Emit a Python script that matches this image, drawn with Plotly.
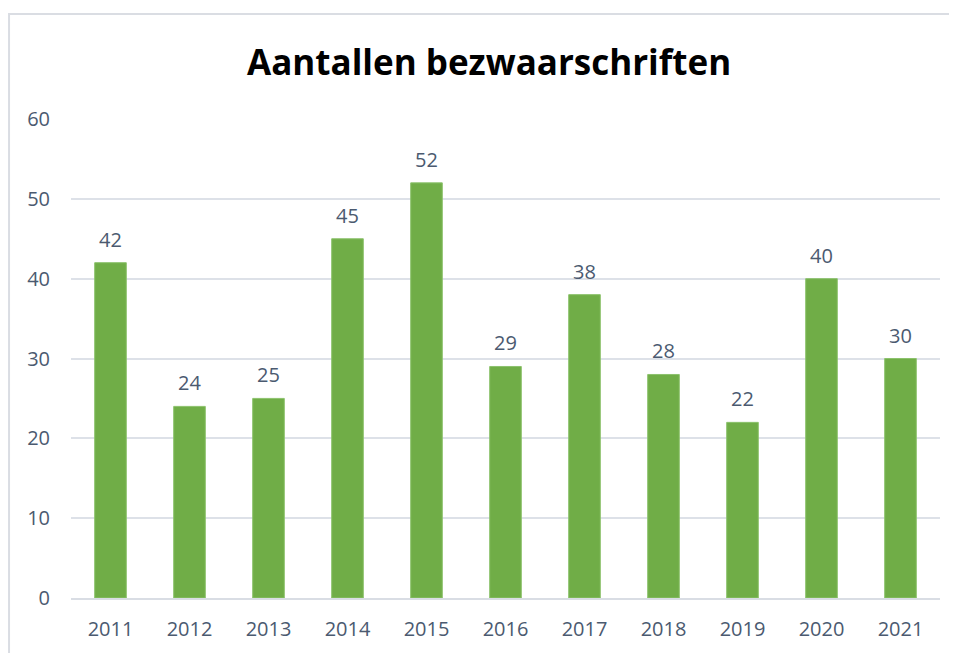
import plotly.graph_objects as go

# Aantallen bezwaarschriften per jaar
jaren = ['2011', '2012', '2013', '2014', '2015', '2016', '2017', '2018', '2019', '2020', '2021']
aantallen = [42, 24, 25, 45, 52, 29, 38, 28, 22, 40, 30]
y_ticks = [0, 10, 20, 30, 40, 50, 60]

tekst_kleur = '#4B5A70'
font_naam = 'Open Sans'

fig = go.Figure()
fig.add_trace(go.Bar(
    x=jaren,
    y=aantallen,
    marker=dict(color='#70AD47', line=dict(width=1, color='#8CC26C')),
    hoverinfo='x+y',
))
# labels boven de staven (onzichtbare markers geven wat extra ruimte)
fig.add_trace(go.Scatter(
    x=jaren,
    y=aantallen,
    mode='markers+text',
    text=aantallen,
    textposition='top center',
    textfont=dict(family=font_naam, size=20, color=tekst_kleur),
    marker=dict(size=16, opacity=0),
    cliponaxis=False,
    hoverinfo='skip',
))

fig.update_layout(
    width=949,
    height=645,
    paper_bgcolor='white',
    plot_bgcolor='white',
    margin=dict(l=63, r=17, t=111, b=55),
    bargap=0.6,
    showlegend=False,
    title=dict(
        text='<b>Aantallen bezwaarschriften</b>',
        x=0.507, xanchor='center',
        y=1 - 55 / 645, yanchor='middle',
        font=dict(family=font_naam, size=35, color='black'),
    ),
    font=dict(family=font_naam, size=20, color=tekst_kleur),
)

fig.update_xaxes(
    type='category',
    range=[-0.5, len(jaren) - 0.5],
    showgrid=False,
    showline=True,
    linecolor='#D9DDE4',
    linewidth=2,
    ticks='',
    ticklabelstandoff=12,
    tickfont=dict(family=font_naam, size=20, color=tekst_kleur),
)
fig.update_yaxes(
    range=[0, 60],
    tickvals=y_ticks,
    showgrid=True,
    gridcolor='#DDE1E8',
    gridwidth=2,
    zeroline=False,
    ticks='',
    ticklabelstandoff=20,
    tickfont=dict(family=font_naam, size=20, color=tekst_kleur),
)

# kaderrand rond de grafiek
fig.add_shape(
    type='rect', xref='paper', yref='paper',
    x0=-0.0713, x1=1.05, y0=-0.2, y1=1.219,
    line=dict(color='#DADDE3', width=2),
    fillcolor='rgba(0,0,0,0)', layer='below',
)

fig.write_html('out.html')
